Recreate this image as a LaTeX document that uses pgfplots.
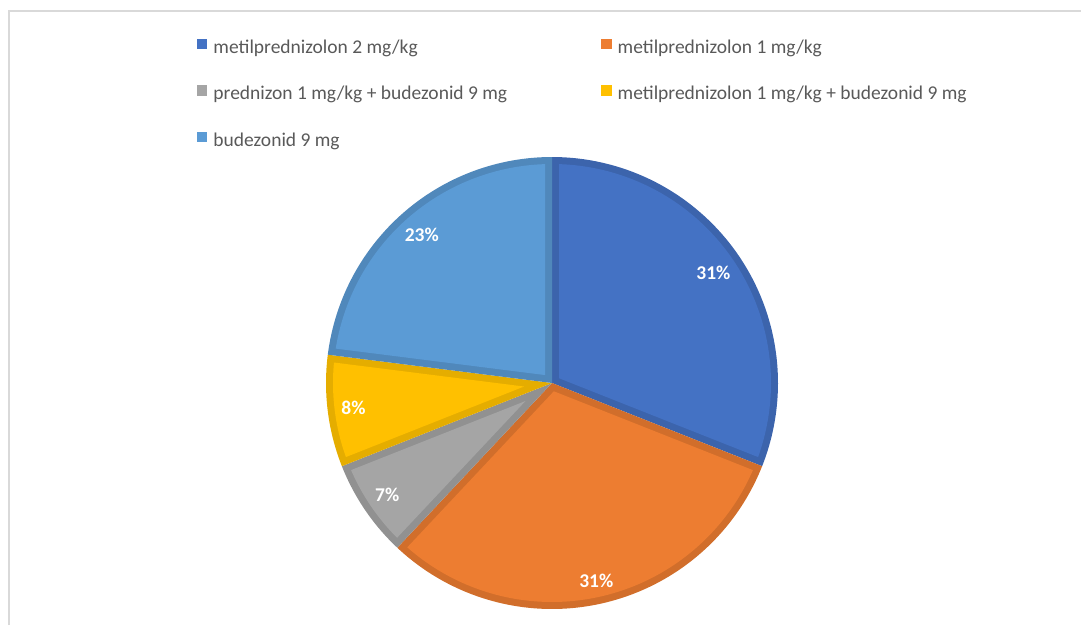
\documentclass[border=0pt]{standalone}
\usepackage{fontspec}
\setmainfont{Carlito}
\usepackage{pgfplots}
\usepackage{pgfplotstable}
\pgfplotsset{compat=1.18}

\definecolor{c1}{HTML}{4472C4}
\definecolor{c2}{HTML}{ED7D31}
\definecolor{c3}{HTML}{A5A5A5}
\definecolor{c4}{HTML}{FFC000}
\definecolor{c5}{HTML}{5B9BD5}
\colorlet{c1d}{c1!88!black}
\colorlet{c2d}{c2!88!black}
\colorlet{c3d}{c3!88!black}
\colorlet{c4d}{c4!90!black}
\colorlet{c5d}{c5!88!black}
\definecolor{legtext}{HTML}{595959}
\definecolor{framecol}{HTML}{D9D9D9}

\newcommand\legfont{\fontsize{19.5pt}{23pt}\selectfont}
\tikzset{pctlabel/.style={text=white, font=\fontsize{19.5pt}{23pt}\selectfont\bfseries, inner sep=0pt}}

% share of each group, in percent
\pgfplotstableread[col sep=comma]{
value,fill,border,name
31,c1,c1d,metilprednizolon 2 mg/kg
31,c2,c2d,metilprednizolon 1 mg/kg
7,c3,c3d,prednizon 1 mg/kg + budezonid 9 mg
8,c4,c4d,metilprednizolon 1 mg/kg + budezonid 9 mg
23,c5,c5d,budezonid 9 mg
}\piedata

\def\R{226}  % pie radius
\def\bw{7}   % border width inside each slice
\def\pieangle{90}

\newcommand\pieslice[1]{%
  \pgfplotstablegetelem{#1}{value}\of\piedata \let\pv\pgfplotsretval
  \pgfplotstablegetelem{#1}{fill}\of\piedata \let\pf\pgfplotsretval
  \pgfplotstablegetelem{#1}{border}\of\piedata \let\pb\pgfplotsretval
  \pgfplotstablegetelem{#1}{name}\of\piedata \let\pn\pgfplotsretval
  \pgfmathsetmacro\sA{\pieangle}
  \pgfmathsetmacro\sH{1.8*\pv}
  \pgfmathsetmacro\sB{\sA-2*\sH}
  \pgfmathsetmacro\sM{\sA-\sH}
  \pgfmathsetmacro\sR{\R-\bw}
  \pgfmathsetmacro\sE{asin(\bw/\sR)}
  \pgfmathsetmacro\sD{\bw/sin(\sH)}
  \pgfmathsetmacro\ax{\sD*cos(\sM)}
  \pgfmathsetmacro\ay{\sD*sin(\sM)}
  \pgfmathsetmacro\lw{\pv<10 ? 25 : 35}
  \pgfmathsetmacro\lr{\R-12.7-(\lw/2*abs(cos(\sM))+6.5*abs(sin(\sM)))}
  \pgfmathsetmacro\lx{\lr*cos(\sM)}
  \pgfmathsetmacro\ly{\lr*sin(\sM)}
  \pgfmathtruncatemacro\pp{round(\pv)}
  \edef\doslice{%
    \noexpand\addplot[fill=\pb, draw=none, domain=\sB:\sA, samples=100,
      legend image code/.code={\noexpand\fill[\pf] (0pt,0pt) rectangle (10.5pt,10.5pt);}]
      ({\R*cos(x)},{\R*sin(x)}) -- (0,0) -- cycle;
    \noexpand\addlegendentry{\pn}
    \noexpand\addplot[fill=\pf, draw=none, forget plot, domain=\sB+\sE:\sA-\sE, samples=100]
      ({\sR*cos(x)},{\sR*sin(x)}) -- (\ax,\ay) -- cycle;
    \noexpand\node[pctlabel] at (\lx,\ly) {\pp\noexpand\%};
  }\doslice
  \xdef\pieangle{\sB}%
}

\begin{document}
\begin{tikzpicture}
\path[use as bounding box] (0pt,0pt) rectangle (1081pt,625pt);
\begin{axis}[
  at={(0pt,0pt)}, anchor=south west,
  x=1pt, y=1pt,
  xmin=-552, xmax=529, ymin=-242, ymax=383,
  hide axis, clip=false,
  legend columns=2,
  legend cell align=left,
  legend style={at={(0.1822,0.9376)}, anchor=north west,
    draw=none, fill=none, inner sep=0pt, outer sep=0pt,
    font=\legfont, text=legtext, row sep=27pt,
    nodes={inner sep=0pt, text height=13pt, text depth=5pt},
    /tikz/every odd column/.append style={column sep=6pt},
    /tikz/every even column/.append style={column sep=94pt}},
]
\draw[framecol, line width=2pt] (-543,-242) -- (-543,372) -- (529,372);
\pgfplotsforeachungrouped \i in {0,...,4} {\pieslice{\i}}
\end{axis}
\end{tikzpicture}
\end{document}
